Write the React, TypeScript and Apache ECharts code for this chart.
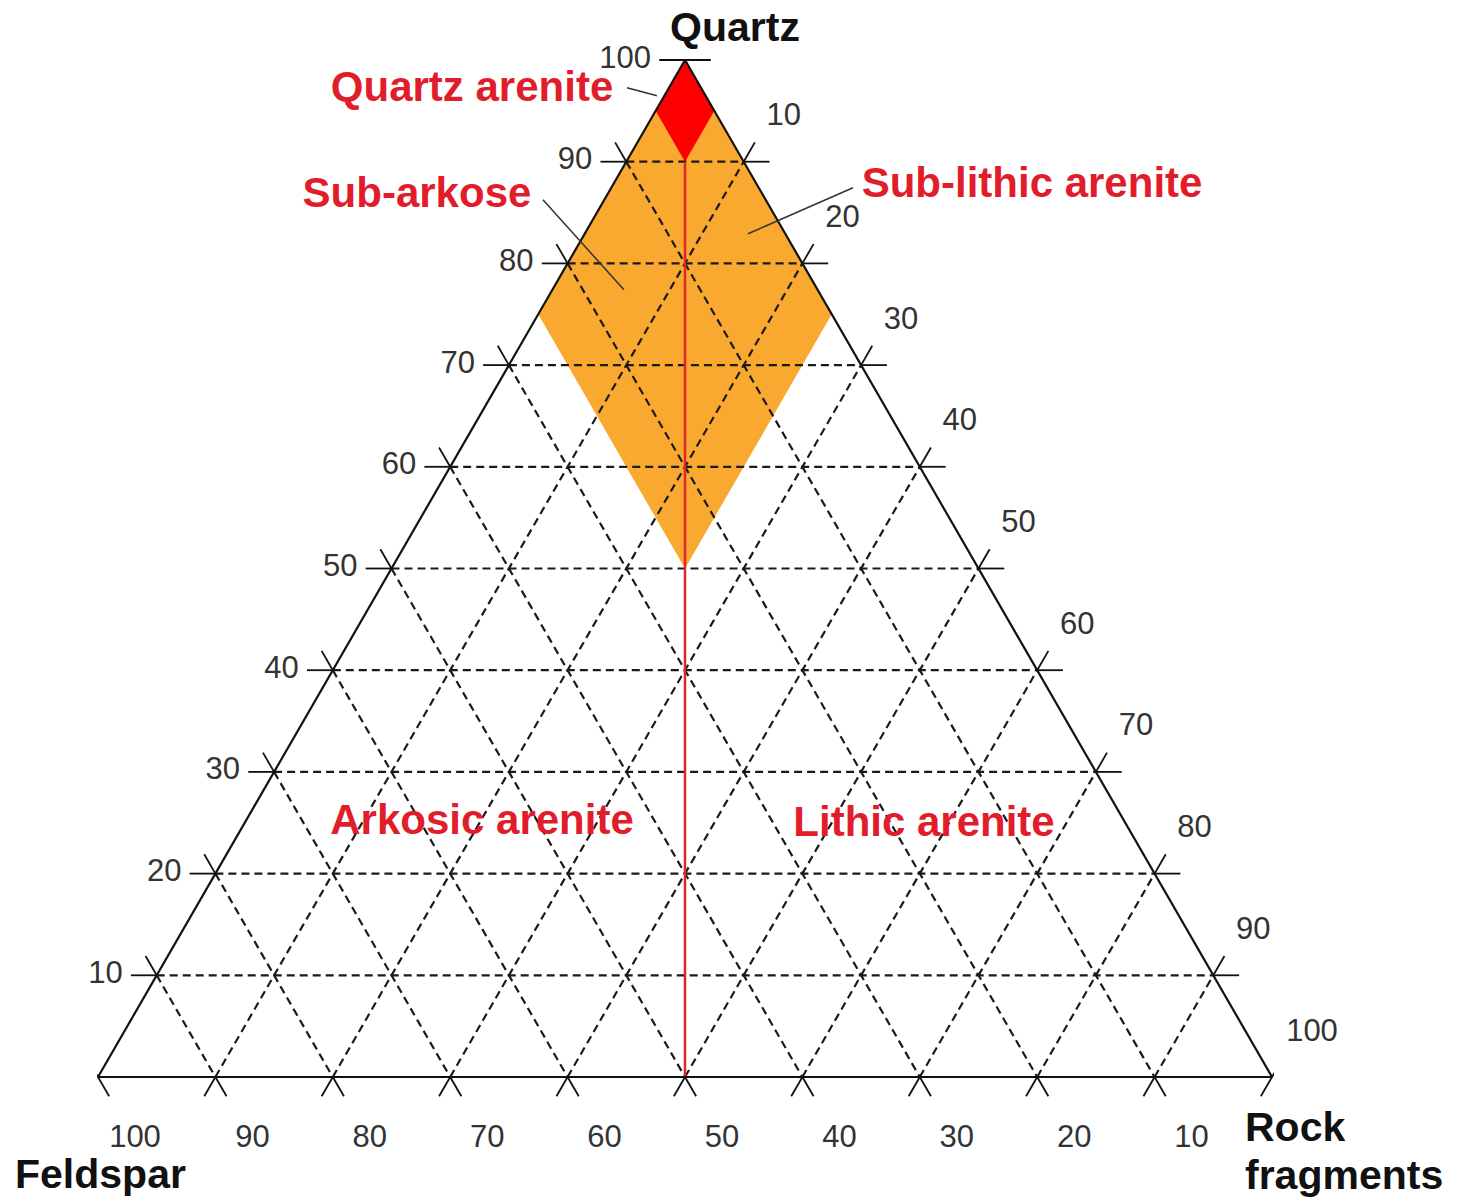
import React, { useEffect, useRef } from "react";
import * as echarts from "echarts";

const S3 = Math.sqrt(3) / 2;

// Ternary grid values (percent)
const gridValues = [10, 20, 30, 40, 50, 60, 70, 80, 90];
const quartzTicks = [10, 20, 30, 40, 50, 60, 70, 80, 90, 100];
const rockTicks = [10, 20, 30, 40, 50, 60, 70, 80, 90, 100];
const feldsparTicks = [10, 20, 30, 40, 50, 60, 70, 80, 90, 100];

// Regions as [Quartz, Rock fragments] vertices
const orangeRegion = [[100, 0], [75, 0], [50, 25], [75, 25]];
const redRegion = [[100, 0], [95, 0], [90, 5], [95, 5]];
const divideLine = [[90, 5], [0, 50]];

// Region names and label anchors (diagram units)
const regionNames = ["Quartz arenite", "Sub-arkose", "Sub-lithic arenite", "Arkosic arenite", "Lithic arenite"];
const regionLabelPos = [[31.86, 84.33], [27.17, 75.3], [79.56, 76.15], [32.71, 21.89], [70.36, 21.72]];
const leaderLines = [
  [[45.06, 84.24], [47.61, 83.56]],
  [[37.9, 74.7], [44.8, 67.04]],
  [[64.31, 75.72], [55.37, 71.81]],
];

const apexNames = ["Quartz", "Feldspar", "Rock\nfragments"];
const apexPos = [[54.26, 89.44], [-7.07, -8.3], [97.7, -6.3]];

const toXY = (q: number, r: number) => [r + q / 2, q * S3];

const FONT = "'Liberation Sans', Arial, sans-serif";

export default function App() {
  const ref = useRef<HTMLDivElement>(null);
  useEffect(() => {
    if (!ref.current) return;
    const chart = echarts.init(ref.current, undefined, { renderer: "svg" });
    const series: any[] = [];

    const seg = (a: number[], b: number[], style: any, z = 3) => {
      series.push({
        type: "line",
        data: [a, b],
        symbol: "none",
        silent: true,
        clip: false,
        z,
        lineStyle: style,
      });
    };

    const poly = (pts: number[][], fill: string, z: number) => {
      const xy = pts.map((p) => toXY(p[0], p[1]));
      series.push({
        type: "custom",
        silent: true,
        z,
        data: xy,
        renderItem: (params: any, api: any) => {
          if (params.dataIndex !== 0) return null;
          return {
            type: "polygon",
            shape: { points: xy.map((p) => api.coord(p)) },
            style: { fill, stroke: "none" },
          };
        },
      });
    };

    poly(orangeRegion, "#f9a92f", 1);
    poly(redRegion, "#ff0000", 1);

    const dash = { color: "#1a1a1a", width: 2.2, type: [8, 5] };
    gridValues.forEach((v) => {
      // constant Quartz
      seg(toXY(v, 0), toXY(v, 100 - v), dash, 2);
      // constant Feldspar
      seg(toXY(100 - v, 0), toXY(0, 100 - v), dash, 2);
      // constant Rock fragments
      seg(toXY(0, v), toXY(100 - v, v), dash, 2);
    });

    // red dividing line
    seg(toXY(divideLine[0][0], divideLine[0][1]), toXY(divideLine[1][0], divideLine[1][1]), { color: "#e0262b", width: 2.5 }, 3);

    // triangle outline
    const solid = { color: "#111", width: 2.2 };
    const A = toXY(0, 0), B = toXY(0, 100), C = toXY(100, 0);
    seg(A, B, solid, 4);
    seg(B, C, solid, 4);
    seg(C, A, solid, 4);

    // ticks
    const H = 2.2; // horizontal tick length
    const D = 1.9; // diagonal tick length
    const tick = { color: "#111", width: 1.8 };
    const add = (p: number[], dx: number, dy: number) => [p[0] + dx, p[1] + dy];
    gridValues.forEach((v) => {
      const l = toXY(v, 0);
      seg(l, add(l, -H, 0), tick, 4);
      seg(l, add(l, -0.5 * D, S3 * D), tick, 4);
      const r = toXY(v, 100 - v);
      seg(r, add(r, H, 0), tick, 4);
      seg(r, add(r, 0.5 * D, S3 * D), tick, 4);
      const b = toXY(0, v);
      seg(b, add(b, 0.5 * D, -S3 * D), tick, 4);
      seg(b, add(b, -0.5 * D, -S3 * D), tick, 4);
    });
    seg(add(C, -H, 0), add(C, H, 0), tick, 4);
    seg(add(A, -0.5 * D, S3 * D), add(A, 0.5 * D, -S3 * D), tick, 4);
    seg(add(B, 0.5 * D, S3 * D), add(B, -0.5 * D, -S3 * D), tick, 4);

    // leader lines
    leaderLines.forEach((ln) => seg(ln[0], ln[1], { color: "#333", width: 1.5 }, 4));

    const numLabel = { show: true, position: "inside", color: "#333", fontSize: 31, lineHeight: 28, fontFamily: FONT };
    const labelSeries = (data: any[], label: any) => {
      series.push({
        type: "scatter",
        symbolSize: 1,
        itemStyle: { color: "rgba(0,0,0,0)", opacity: 1 },
        silent: true,
        clip: false,
        z: 5,
        data,
        label,
      });
    };

    labelSeries(
      quartzTicks.map((v) => ({ value: toXY(v, 0), label: { formatter: String(v) } })),
      { ...numLabel, align: "right", verticalAlign: "middle", offset: [-34, -3] }
    );
    labelSeries(
      rockTicks.map((v) => ({ value: toXY(100 - v, v), label: { formatter: String(v) } })),
      { ...numLabel, align: "center", verticalAlign: "middle", offset: [40, -47] }
    );
    labelSeries(
      feldsparTicks.map((v) => ({ value: toXY(0, 100 - v), label: { formatter: String(v) } })),
      { ...numLabel, align: "center", verticalAlign: "middle", offset: [37, 59] }
    );

    labelSeries(
      regionNames.map((n, i) => ({ value: regionLabelPos[i], label: { formatter: n } })),
      { show: true, position: "inside", color: "#e21d2b", fontSize: 42, fontWeight: "bold", fontFamily: FONT, align: "center", verticalAlign: "middle" }
    );

    labelSeries(
      apexNames.map((n, i) => ({
        value: apexPos[i],
        label: { formatter: n, align: i === 0 ? "center" : "left", lineHeight: i === 2 ? 48 : 36 },
      })),
      { show: true, position: "inside", color: "#111", fontSize: 41, fontWeight: "bold", fontFamily: FONT, verticalAlign: "middle" }
    );

    chart.setOption({
      animation: false,
      backgroundColor: "#fff",
      grid: { left: 98, top: 60, width: 1174, height: 1017 },
      xAxis: { type: "value", min: 0, max: 100, show: false },
      yAxis: { type: "value", min: 0, max: 100 * S3, show: false },
      series,
    });
    return () => chart.dispose();
  }, []);

  return (
    <div
      ref={ref}
      style={{ position: "absolute", left: 0, top: 0, width: 1461, height: 1200, background: "#fff" }}
    />
  );
}
